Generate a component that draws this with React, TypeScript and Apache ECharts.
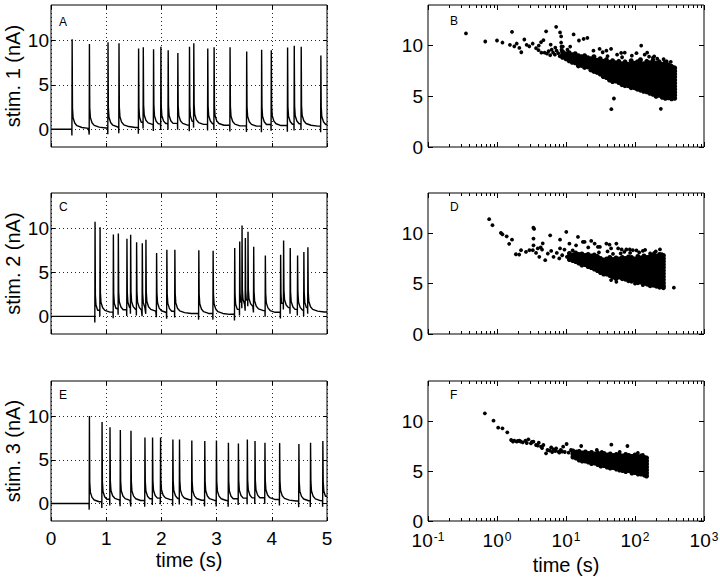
import React, { useEffect, useRef } from "react";
import * as echarts from "echarts";

const FONT = "'Liberation Sans', Arial, Helvetica, sans-serif";

// ---------- axis ticks ----------
const currentTicks = [0, 5, 10];
const logMajorTicks = [0.1, 1, 10, 100, 1000];
const logMajorExponents = ["-1", "0", "1", "2", "3"];
const logMinorTicks = [
  0.2, 0.3, 0.4, 0.5, 0.6, 0.7, 0.8, 0.9,
  2, 3, 4, 5, 6, 7, 8, 9,
  20, 30, 40, 50, 60, 70, 80, 90,
  200, 300, 400, 500, 600, 700, 800, 900,
];
const panelLetters = ["A", "B", "C", "D", "E", "F"];
const stimNames = ["stim. 1 (nA)", "stim. 2 (nA)", "stim. 3 (nA)"];

// ---------- left column: spike trains (time in s, peak current in nA) ----------
const stim1SpikeTimes = [0.38, 0.693, 1.03, 1.229, 1.584, 1.669, 1.855, 1.988, 2.12, 2.295, 2.506, 2.584, 2.837, 2.952, 3.241, 3.542, 3.813, 3.988, 4.283, 4.404, 4.53, 4.886];
const stim1SpikePeaks = [10.15, 9.6, 9.8, 9.7, 9.1, 9.25, 9.0, 9.3, 8.9, 8.6, 9.3, 9.7, 9.1, 9.25, 9.25, 8.75, 8.95, 8.9, 9.2, 9.4, 9.3, 8.3];

const stim2SpikeTimes = [0.795, 0.886, 1.127, 1.217, 1.373, 1.44, 1.548, 1.651, 1.717, 1.91, 2.096, 2.241, 2.675, 2.934, 3.325, 3.416, 3.458, 3.518, 3.566, 3.669, 3.88, 4.157, 4.211, 4.331, 4.464, 4.578, 4.651];
const stim2SpikePeaks = [10.75, 10.1, 9.3, 9.4, 8.8, 9.25, 8.4, 8.3, 8.7, 7.2, 7.55, 7.55, 7.5, 7.45, 7.75, 8.5, 10.3, 8.9, 9.6, 7.9, 6.9, 7.0, 8.6, 7.75, 6.9, 7.3, 7.85];

const stim3SpikeTimes = [0.693, 0.922, 1.066, 1.253, 1.446, 1.699, 1.837, 1.982, 2.205, 2.325, 2.548, 2.783, 2.994, 3.211, 3.392, 3.554, 3.693, 3.873, 4.139, 4.488, 4.699, 4.922];
const stim3SpikePeaks = [10.0, 9.3, 8.7, 8.4, 8.3, 7.55, 7.55, 7.55, 7.3, 7.3, 7.2, 7.15, 7.2, 6.95, 6.85, 7.3, 7.15, 6.95, 6.9, 6.8, 6.95, 7.15];

// spike waveform: dip before the rise, then decay after the peak
const spikeDip = -0.7;
const spikeDecayOffsets = [0.009, 0.02, 0.05, 0.09, 0.18, 0.3];
const spikeDecayValues = [2.4, 1.3, 0.7, 0.4, 0.2, 0.1];

// ---------- right column: spike amplitude (nA) vs time (s) ----------
const panelBSparse = [
  [0.355, 11.2], [0.676, 10.4], [1.0, 10.5], [1.2, 10.3], [1.54, 10.07], [1.65, 11.35], [1.78, 9.93], [1.93, 10.2],
  [2.11, 9.77], [2.25, 9.34], [2.49, 10.6], [2.69, 10.07], [2.94, 9.93], [3.29, 10.2], [3.68, 9.74], [4.03, 10.0],
  [4.35, 10.33], [4.71, 10.53], [4.9, 9.3], [5.15, 11.4], [7.2, 11.85], [8.2, 11.3], [8.5, 10.9], [12.9, 11.1],
  [15.4, 10.5], [18.0, 10.65], [20.4, 10.75], [30.7, 9.67], [45, 9.67], [71, 9.3], [123, 10.0], [138, 9.1],
  [182, 8.8], [288, 8.45], [45.4, 3.73], [49.5, 4.78], [237, 3.76],
  [4.0, 9.55], [4.4, 9.3], [5.3, 9.2], [5.6, 9.45], [5.9, 9.05], [6.2, 9.6], [6.5, 9.3], [6.9, 9.1], [7.3, 9.5],
  [7.7, 9.25], [8.1, 8.95], [8.6, 9.6], [9.2, 9.2], [9.6, 8.9], [6.0, 10.1], [7.0, 9.8], [8.5, 10.3], [8.6, 9.9],
  [9.0, 9.9], [10.5, 9.6], [11.5, 9.9], [34, 9.34], [38.5, 9.5], [63, 9.27], [190, 8.94], [25, 9.5], [55, 9.1],
  [90, 9.0], [105, 9.25], [160, 8.9], [210, 8.7], [260, 8.65], [330, 8.4], [40, 8.95], [65, 8.85], [150, 9.3],
];
const panelBDense = [
  [8.9, [9.4, 9.1, 8.85]],
  [10, [9.2, 8.95, 8.7]],
  [11.1, [9.3, 9.0, 8.75, 8.5]],
  [12.3, [9.1, 8.85, 8.6, 8.35]],
  [13.6, [9.2, 8.9, 8.6, 8.3]],
  [15.1, [9.0, 8.75, 8.5, 8.2, 8.0]],
  [16.8, [8.9, 8.6, 8.3, 8.05]],
  [18.6, [9.0, 8.7, 8.4, 8.1, 7.85]],
  [20.7, [8.8, 8.5, 8.2, 7.9]],
  [22.9, [8.7, 8.45, 8.15, 7.85, 7.6]],
  [25.4, [8.9, 8.6, 8.3, 8.0, 7.7, 7.45]],
  [28.2, [8.55, 8.25, 7.95, 7.65, 7.35]],
  [31.3, [8.7, 8.4, 8.1, 7.8, 7.5, 7.2]],
  [34.7, [8.45, 8.15, 7.85, 7.55, 7.25, 6.95]],
  [38.5, [8.6, 8.3, 8.0, 7.7, 7.4, 7.1, 6.85]],
  [42.7, [8.35, 8.05, 7.75, 7.45, 7.15, 6.85, 6.6]],
  [47.3, [8.5, 8.2, 7.9, 7.6, 7.3, 7.0, 6.7, 6.45]],
  [52.5, [8.3, 8.0, 7.7, 7.4, 7.1, 6.8, 6.5]],
  [58.2, [8.45, 8.15, 7.85, 7.55, 7.25, 6.95, 6.65, 6.35]],
  [64.6, [8.2, 7.9, 7.6, 7.3, 7.0, 6.7, 6.4, 6.15]],
  [71.6, [8.4, 8.1, 7.8, 7.5, 7.2, 6.9, 6.6, 6.3, 6.05]],
  [79.4, [8.15, 7.85, 7.55, 7.25, 6.95, 6.65, 6.35, 6.05]],
  [88.1, [8.5, 8.2, 7.9, 7.6, 7.3, 7.0, 6.7, 6.4, 6.1, 5.85]],
  [97.7, [8.25, 7.95, 7.65, 7.35, 7.05, 6.75, 6.45, 6.15, 5.85]],
  [108, [8.4, 8.1, 7.8, 7.5, 7.2, 6.9, 6.6, 6.3, 6.0, 5.7]],
  [120, [8.6, 8.3, 8.0, 7.7, 7.4, 7.1, 6.8, 6.5, 6.2, 5.9, 5.6]],
  [133, [8.2, 7.9, 7.6, 7.3, 7.0, 6.7, 6.4, 6.1, 5.8, 5.5]],
  [148, [8.45, 8.15, 7.85, 7.55, 7.25, 6.95, 6.65, 6.35, 6.05, 5.75, 5.45]],
  [164, [8.3, 8.0, 7.7, 7.4, 7.1, 6.8, 6.5, 6.2, 5.9, 5.6, 5.3]],
  [182, [8.5, 8.2, 7.9, 7.6, 7.3, 7.0, 6.7, 6.4, 6.1, 5.8, 5.5, 5.2]],
  [202, [8.25, 7.95, 7.65, 7.35, 7.05, 6.75, 6.45, 6.15, 5.85, 5.55, 5.25, 5.0]],
  [224, [8.4, 8.1, 7.8, 7.5, 7.2, 6.9, 6.6, 6.3, 6.0, 5.7, 5.4, 5.1]],
  [248, [8.15, 7.85, 7.55, 7.25, 6.95, 6.65, 6.35, 6.05, 5.75, 5.45, 5.15, 4.9]],
  [275, [8.35, 8.05, 7.75, 7.45, 7.15, 6.85, 6.55, 6.25, 5.95, 5.65, 5.35, 5.05, 4.8]],
  [305, [8.1, 7.8, 7.5, 7.2, 6.9, 6.6, 6.3, 6.0, 5.7, 5.4, 5.1, 4.85]],
  [339, [7.95, 7.65, 7.35, 7.05, 6.75, 6.45, 6.15, 5.85, 5.55, 5.25, 4.95, 4.75]],
  [376, [7.8, 7.5, 7.2, 6.9, 6.6, 6.3, 6.0, 5.7, 5.4, 5.1, 4.8]],
];

const panelDSparse = [
  [0.77, 11.4], [0.86, 10.8], [1.14, 10.04], [1.2, 9.9], [1.38, 9.7], [1.65, 9.37], [1.5, 8.95], [1.88, 7.92],
  [2.1, 7.89], [2.23, 8.32], [2.63, 8.15], [2.95, 8.32], [3.37, 10.56], [3.45, 10.43], [3.38, 9.47], [3.38, 8.8],
  [3.3, 8.32], [3.68, 8.05], [4.1, 7.66], [4.5, 8.38], [4.6, 9.0], [5.0, 7.33], [5.45, 7.99], [5.9, 9.8],
  [6.1, 8.25], [6.6, 7.66], [7.35, 8.05], [8.0, 7.5], [8.2, 9.37], [8.8, 7.82], [9.5, 8.38], [10.1, 10.13],
  [10.3, 7.66], [14.9, 9.64], [18.6, 9.14], [23.2, 9.24], [31, 8.65], [42.7, 8.88], [53.7, 8.98], [57, 8.5],
  [75, 8.39], [93, 8.32], [166, 8.0], [245, 7.92], [366, 4.6], [53.7, 5.18],
  [3.9, 8.5], [4.3, 8.6], [8.2, 8.5], [11.2, 8.97], [12.5, 8.3], [14, 8.8], [17.6, 9.14], [21, 8.6], [26, 8.98],
  [29, 8.65], [38.5, 8.98], [45, 8.5], [64, 8.4], [84, 8.4], [105, 8.3], [130, 8.25], [190, 8.05],
  [30, 8.1], [40, 8.2], [48, 7.95], [62, 8.0], [70, 8.15], [85, 8.05], [115, 8.1], [140, 8.35], [200, 8.2],
  [230, 8.4], [45, 5.35], [100, 5.0], [130, 4.85],
];
const panelDDense = [
  [11.2, [8.0, 7.7, 7.4]],
  [12.5, [7.85, 7.55, 7.3]],
  [13.8, [8.05, 7.75, 7.45, 7.2]],
  [15.3, [7.9, 7.6, 7.3, 7.05]],
  [17.0, [7.95, 7.65, 7.35, 7.05, 6.85]],
  [18.9, [7.8, 7.5, 7.2, 6.9]],
  [20.9, [7.9, 7.6, 7.3, 7.0, 6.7]],
  [23.2, [7.75, 7.45, 7.15, 6.85, 6.6]],
  [25.7, [7.85, 7.55, 7.25, 6.95, 6.65, 6.45]],
  [28.5, [7.7, 7.4, 7.1, 6.8, 6.5, 6.3]],
  [31.6, [7.5, 7.2, 6.9, 6.6, 6.3, 6.1]],
  [35.1, [7.35, 7.05, 6.75, 6.45, 6.15, 5.95]],
  [38.9, [7.45, 7.15, 6.85, 6.55, 6.25, 5.95]],
  [43.2, [7.6, 7.3, 7.0, 6.7, 6.4, 6.1, 5.8]],
  [47.9, [7.4, 7.1, 6.8, 6.5, 6.2, 5.9, 5.65]],
  [53.1, [7.55, 7.25, 6.95, 6.65, 6.35, 6.05, 5.75, 5.5]],
  [58.9, [7.45, 7.15, 6.85, 6.55, 6.25, 5.95, 5.65]],
  [65.3, [7.6, 7.3, 7.0, 6.7, 6.4, 6.1, 5.8, 5.5]],
  [72.4, [7.5, 7.2, 6.9, 6.6, 6.3, 6.0, 5.7, 5.45]],
  [80.4, [7.65, 7.35, 7.05, 6.75, 6.45, 6.15, 5.85, 5.55, 5.3]],
  [89.1, [7.6, 7.3, 7.0, 6.7, 6.4, 6.1, 5.8, 5.5, 5.25]],
  [98.9, [7.45, 7.15, 6.85, 6.55, 6.25, 5.95, 5.65, 5.35]],
  [110, [7.7, 7.4, 7.1, 6.8, 6.5, 6.2, 5.9, 5.6, 5.3, 5.1]],
  [122, [7.55, 7.25, 6.95, 6.65, 6.35, 6.05, 5.75, 5.45, 5.15]],
  [135, [7.75, 7.45, 7.15, 6.85, 6.55, 6.25, 5.95, 5.65, 5.35, 5.05]],
  [150, [7.6, 7.3, 7.0, 6.7, 6.4, 6.1, 5.8, 5.5, 5.2, 4.95]],
  [166, [7.7, 7.4, 7.1, 6.8, 6.5, 6.2, 5.9, 5.6, 5.3, 5.0, 4.8]],
  [184, [7.85, 7.55, 7.25, 6.95, 6.65, 6.35, 6.05, 5.75, 5.45, 5.15, 4.85]],
  [204, [7.75, 7.45, 7.15, 6.85, 6.55, 6.25, 5.95, 5.65, 5.35, 5.05, 4.75]],
  [227, [7.9, 7.6, 7.3, 7.0, 6.7, 6.4, 6.1, 5.8, 5.5, 5.2, 4.9, 4.65]],
  [251, [7.65, 7.35, 7.05, 6.75, 6.45, 6.15, 5.85, 5.55, 5.25, 4.95, 4.7]],
  [258, [7.8, 7.5, 7.2, 6.9, 6.6, 6.3, 6.0, 5.7, 5.4, 5.1, 4.8, 4.6]],
];

const panelFSparse = [
  [0.667, 10.77], [0.89, 10.03], [1.04, 9.33], [1.2, 9.27], [1.41, 8.87], [1.6, 8.1], [1.78, 8.03], [1.93, 7.93],
  [2.11, 8.03], [2.36, 7.87], [2.58, 8.03], [2.85, 8.17], [3.1, 7.77], [3.37, 7.93], [3.68, 7.6], [4.03, 7.83],
  [4.35, 7.43], [4.7, 7.6], [5.14, 6.77], [5.4, 7.1], [6.1, 7.37], [6.6, 7.17], [7.2, 7.27], [7.8, 6.93],
  [8.4, 7.1], [9.1, 7.43], [10.2, 7.7], [9.6, 6.9], [10.9, 6.83], [11.8, 7.1], [13.2, 6.6], [14.2, 6.95],
  [15.7, 6.43], [16.6, 7.5], [33, 6.9], [45.4, 7.63], [77.7, 7.5], [93, 6.5], [123, 6.33], [1.7, 7.95],
  [2.0, 8.0], [2.2, 7.95], [2.7, 7.8], [3.2, 7.9], [3.9, 7.55], [4.5, 7.3], [5.8, 7.05], [6.3, 6.9],
  [7.0, 7.0], [8.0, 6.85], [8.8, 6.95], [28, 7.1], [60, 6.9], [130, 6.6], [110, 6.8],
];
const panelFDense = [
  [12.6, [7.0, 6.7, 6.4]],
  [14.0, [6.85, 6.55, 6.3]],
  [15.5, [6.95, 6.65, 6.35, 6.1]],
  [17.2, [6.8, 6.5, 6.2, 6.0]],
  [19.1, [6.9, 6.6, 6.3, 6.0]],
  [21.1, [6.75, 6.45, 6.15, 5.9]],
  [23.4, [6.85, 6.55, 6.25, 5.95, 5.75]],
  [26.0, [6.7, 6.4, 6.1, 5.8]],
  [28.8, [6.8, 6.5, 6.2, 5.9, 5.65]],
  [32.0, [6.65, 6.35, 6.05, 5.75, 5.5]],
  [35.5, [6.75, 6.45, 6.15, 5.85, 5.55]],
  [39.4, [6.6, 6.3, 6.0, 5.7, 5.4]],
  [43.7, [6.7, 6.4, 6.1, 5.8, 5.5, 5.3]],
  [48.4, [6.55, 6.25, 5.95, 5.65, 5.35]],
  [53.7, [6.65, 6.35, 6.05, 5.75, 5.45, 5.2]],
  [59.6, [6.6, 6.3, 6.0, 5.7, 5.4, 5.1]],
  [66.1, [6.5, 6.2, 5.9, 5.6, 5.3, 5.05]],
  [73.3, [6.65, 6.35, 6.05, 5.75, 5.45, 5.15, 4.95]],
  [81.3, [6.55, 6.25, 5.95, 5.65, 5.35, 5.05]],
  [90.2, [6.45, 6.15, 5.85, 5.55, 5.25, 4.95, 4.8]],
  [100, [6.6, 6.3, 6.0, 5.7, 5.4, 5.1, 4.85]],
  [111, [6.4, 6.1, 5.8, 5.5, 5.2, 4.9, 4.7]],
  [123, [6.5, 6.2, 5.9, 5.6, 5.3, 5.0, 4.7]],
  [137, [6.35, 6.05, 5.75, 5.45, 5.15, 4.85, 4.6]],
  [147, [6.3, 6.0, 5.7, 5.4, 5.1, 4.8, 4.5]],
];

// ---------- layout ----------
const rows = [
  { top: 5, height: 142 },
  { top: 193, height: 141 },
  { top: 381, height: 140 },
];
const cols = [
  { left: 51, width: 276 },
  { left: 428, width: 276 },
];
const letterPos = [
  [59, 16], [450, 14.5], [59, 201], [450, 201], [59, 388.5], [450, 388.5],
];

function buildTrace(times: number[], peaks: number[]) {
  const pts: number[][] = [[0, 0]];
  let level = 0;
  times.forEach((t, i) => {
    const next = i + 1 < times.length ? times[i + 1] : 5.2;
    pts.push([t - 0.004, level], [t - 0.001, level + spikeDip], [t + 0.003, peaks[i]]);
    const carry = level * 0.4;
    let last = level;
    spikeDecayOffsets.forEach((off, k) => {
      if (t + off < next - 0.005 && t + off <= 5) {
        last = spikeDecayValues[k] + carry;
        pts.push([t + off, last]);
      }
    });
    level = last;
  });
  pts.push([5, level]);
  return pts;
}

function flattenColumns(colsData: any[]) {
  const out: number[][] = [];
  colsData.forEach(([t, vs]) => vs.forEach((v: number) => out.push([t, v])));
  return out;
}

function logLabel(v: number) {
  const i = logMajorTicks.findIndex((m) => Math.abs(v - m) / m < 1e-6);
  if (i < 0) return "";
  return `{b|10}{e|${logMajorExponents[i]}}`;
}

function buildOption() {
  const grid: any[] = [];
  const xAxis: any[] = [];
  const yAxis: any[] = [];
  const series: any[] = [];
  const graphic: any[] = [];
  const tickLine = { color: "#000", width: 1 };
  const dotted = { color: "#000", width: 1, type: [1, 3], opacity: 0.85 };
  const noLine = { show: false, onZero: false };
  const traces = [
    buildTrace(stim1SpikeTimes, stim1SpikePeaks),
    buildTrace(stim2SpikeTimes, stim2SpikePeaks),
    buildTrace(stim3SpikeTimes, stim3SpikePeaks),
  ];
  const scatters = [
    [panelBSparse, flattenColumns(panelBDense)],
    [panelDSparse, flattenColumns(panelDDense)],
    [panelFSparse, flattenColumns(panelFDense)],
  ];

  for (let idx = 0; idx < 6; idx++) {
    const r = Math.floor(idx / 2);
    const c = idx % 2;
    const g = grid.length;
    grid.push({
      left: cols[c].left,
      top: rows[r].top,
      width: cols[c].width,
      height: rows[r].height,
      show: true,
      borderColor: "#000",
      borderWidth: 1,
      backgroundColor: "transparent",
      containLabel: false,
      outerBoundsMode: "none",
    });
    const nameStyle = { fontSize: 20, color: "#000", fontFamily: FONT };
    const labelStyle = { fontSize: 19, lineHeight: 15, color: "#000", fontFamily: FONT };
    if (c === 0) {
      const xi = xAxis.length;
      xAxis.push({
        gridIndex: g, type: "value", min: 0, max: 5, interval: 1, position: "bottom",
        axisLine: noLine,
        axisTick: { show: true, inside: true, length: 4, lineStyle: tickLine },
        axisLabel: { show: r === 2, margin: 10, ...labelStyle },
        splitLine: { show: true, lineStyle: dotted },
        name: r === 2 ? "time (s)" : "", nameLocation: "middle", nameGap: 29, nameTextStyle: nameStyle,
      });
      xAxis.push({
        gridIndex: g, type: "value", min: 0, max: 5, interval: 1, position: "top",
        axisLine: noLine,
        axisTick: { show: true, inside: true, length: 4, lineStyle: tickLine },
        axisLabel: { show: false }, splitLine: { show: false },
      });
      const yi = yAxis.length;
      yAxis.push({
        gridIndex: g, type: "value", min: -2, max: 14, position: "left",
        axisLine: noLine,
        axisTick: { show: true, inside: true, length: 4, lineStyle: tickLine, customValues: currentTicks },
        axisLabel: { show: true, margin: 2, customValues: currentTicks, ...labelStyle },
        splitLine: { show: true, lineStyle: dotted },
        name: stimNames[r], nameLocation: "middle", nameGap: 28, nameRotate: 90, nameTextStyle: nameStyle,
      });
      yAxis.push({
        gridIndex: g, type: "value", min: -2, max: 14, position: "right",
        axisLine: noLine,
        axisTick: { show: true, inside: true, length: 4, lineStyle: tickLine, customValues: currentTicks },
        axisLabel: { show: false }, splitLine: { show: false },
      });
      series.push({
        type: "line", xAxisIndex: xi, yAxisIndex: yi, data: traces[r],
        showSymbol: false, symbol: "none", lineStyle: { color: "#000", width: 1.4 },
        clip: true, z: 3,
      });
    } else {
      const xi = xAxis.length;
      xAxis.push({
        gridIndex: g, type: "log", logBase: 10, min: 0.1, max: 1000, position: "bottom",
        axisLine: noLine,
        axisTick: { show: true, inside: true, length: 5, lineStyle: tickLine },
        axisLabel: {
          show: r === 2, margin: 10, color: "#000", fontFamily: FONT,
          formatter: logLabel,
          rich: {
            b: { fontSize: 19, lineHeight: 19, verticalAlign: "bottom", fontFamily: FONT, color: "#000" },
            e: { fontSize: 12, lineHeight: 12, verticalAlign: "top", padding: [0, 0, 11, 1], fontFamily: FONT, color: "#000" },
          },
        },
        splitLine: { show: false },
        name: r === 2 ? "time (s)" : "", nameLocation: "middle", nameGap: 25, nameTextStyle: nameStyle,
      });
      xAxis.push({
        gridIndex: g, type: "log", logBase: 10, min: 0.1, max: 1000, position: "top",
        axisLine: noLine,
        axisTick: { show: true, inside: true, length: 5, lineStyle: tickLine },
        axisLabel: { show: false }, splitLine: { show: false },
      });
      const minorLogs = logMinorTicks.map((v) => Math.log10(v));
      ["bottom", "top"].forEach((pos) => {
        xAxis.push({
          gridIndex: g, type: "value", min: -1, max: 3, position: pos,
          axisLine: noLine,
          axisTick: { show: true, inside: true, length: 3, lineStyle: tickLine, customValues: minorLogs },
          axisLabel: { show: false }, splitLine: { show: false },
        });
      });
      const yi = yAxis.length;
      yAxis.push({
        gridIndex: g, type: "value", min: 0, max: 14, position: "left",
        axisLine: noLine,
        axisTick: { show: true, inside: true, length: 5, lineStyle: tickLine, customValues: currentTicks },
        axisLabel: { show: true, margin: 5, customValues: currentTicks, ...labelStyle },
        splitLine: { show: false },
      });
      yAxis.push({
        gridIndex: g, type: "value", min: 0, max: 14, position: "right",
        axisLine: noLine,
        axisTick: { show: true, inside: true, length: 5, lineStyle: tickLine, customValues: currentTicks },
        axisLabel: { show: false }, splitLine: { show: false },
      });
      const [sparse, dense] = scatters[r];
      series.push({
        type: "scatter", xAxisIndex: xi, yAxisIndex: yi, data: dense,
        symbol: "circle", symbolSize: 5, itemStyle: { color: "#000", opacity: 1 }, z: 3,
      });
      series.push({
        type: "scatter", xAxisIndex: xi, yAxisIndex: yi, data: sparse,
        symbol: "circle", symbolSize: 3.8, itemStyle: { color: "#000", opacity: 1 }, z: 3,
      });
    }
    graphic.push({
      type: "text", left: letterPos[idx][0], top: letterPos[idx][1],
      style: { text: panelLetters[idx], fontSize: 12, fill: "#000", fontFamily: FONT },
    });
  }

  return {
    animation: false,
    backgroundColor: "#fff",
    textStyle: { fontFamily: FONT, color: "#000" },
    grid, xAxis, yAxis, series, graphic,
  };
}

export default function App() {
  const ref = useRef<HTMLDivElement>(null);
  useEffect(() => {
    document.body.style.margin = "0";
    const chart = echarts.init(ref.current!, undefined, { renderer: "svg", width: 720, height: 578 });
    chart.setOption(buildOption() as any);
    return () => chart.dispose();
  }, []);
  return (
    <div
      ref={ref}
      style={{ width: 720, height: 578, position: "absolute", left: 0, top: 0, background: "#fff" }}
    />
  );
}
